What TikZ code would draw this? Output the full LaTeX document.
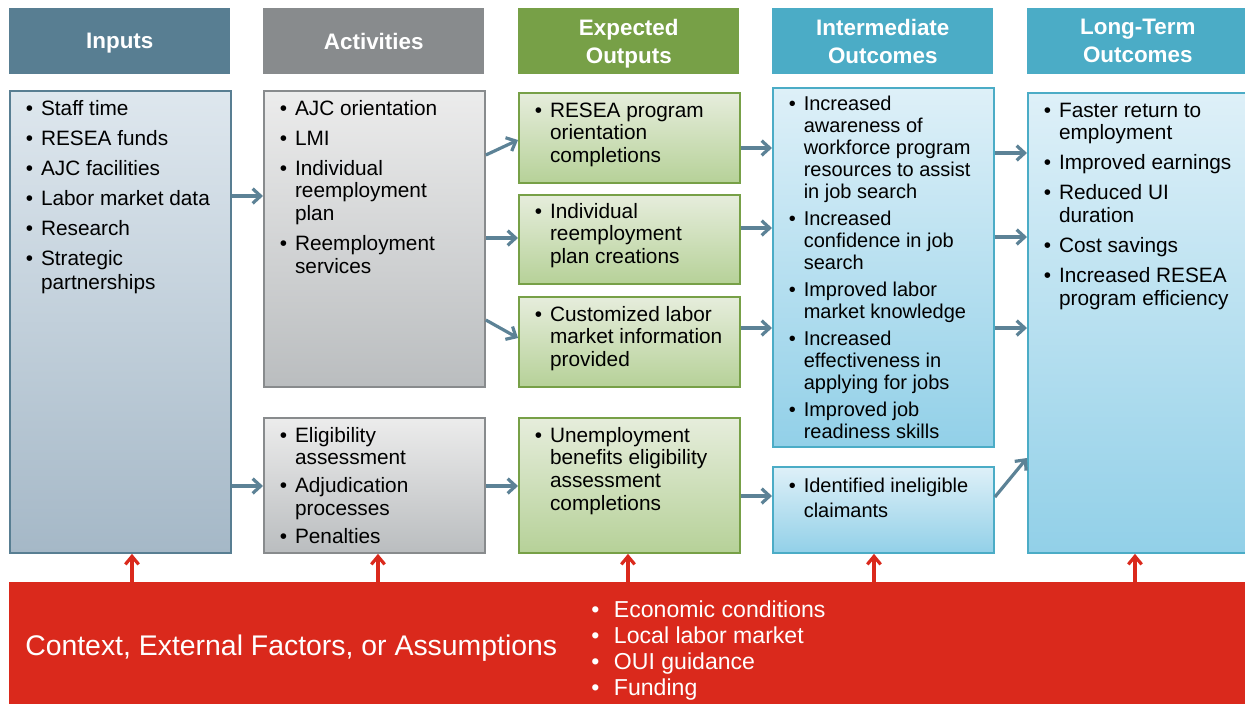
\documentclass[tikz,border=0pt]{standalone}
\usepackage{fontspec}
\setmainfont{Liberation Sans}
\usetikzlibrary{arrows.meta}

\definecolor{inputblue}{RGB}{88,126,146}
\definecolor{inputtop}{RGB}{222,231,238}
\definecolor{inputbot}{RGB}{165,184,199}
\definecolor{actgray}{RGB}{136,139,141}
\definecolor{acttop}{RGB}{236,236,236}
\definecolor{actbot}{RGB}{186,189,191}
\definecolor{outgreen}{RGB}{119,160,71}
\definecolor{outtop}{RGB}{230,237,220}
\definecolor{outbot}{RGB}{182,209,152}
\definecolor{rescyan}{RGB}{75,172,198}
\definecolor{restop}{RGB}{222,240,248}
\definecolor{resbot}{RGB}{146,208,232}
\definecolor{ctxred}{RGB}{218,41,28}
\definecolor{flowblue}{RGB}{92,130,150}

\newdimen\px \px=0.75pt
\newcommand{\items}[1]{\begin{tabular}[t]{@{}l@{\hspace{6pt}}l@{}}#1\end{tabular}}

\tikzset{
  head/.style={fill=#1, text=white, font=\bfseries\fontsize{16.8}{21}\selectfont,
    align=center, anchor=north west, inner sep=0pt, text depth=0pt,
    minimum width=221\px, minimum height=66\px},
  panel/.style n args={4}{draw=#1, top color=#2, bottom color=#3, line width=1.4pt,
    anchor=north west, inner sep=0pt, minimum width=221\px, minimum height=#4\px},
  list/.style={anchor=base west, inner sep=0pt, font=\fontsize{15.6}{17}\selectfont},
  flow/.style={draw=flowblue, line width=2.4pt, -{Straight Barb[length=6pt,width=11pt]}},
  ctxarrow/.style={draw=ctxred, line width=2.4pt, -{Straight Barb[length=6pt,width=10pt]}},
}

\begin{document}
\begin{tikzpicture}[x=0.75pt,y=-0.75pt]
  \useasboundingbox (0,0) rectangle (1245,704);
  \clip (0,0) rectangle (1245,704);
  % headers
  \node[head=inputblue] (hinp) at (9,8) {Inputs};
  \node[head=actgray] (hact) at (263,8) {Activities};
  \node[head=outgreen] (hout) at (518,8) {Expected\\Outputs};
  \node[head=rescyan] (hint) at (772,8) {Intermediate\\Outcomes};
  \node[head=rescyan] (hlt) at (1027,8) {Long-Term\\Outcomes};
  % boxes
  \node[panel={inputblue}{inputtop}{inputbot}{462}] (inp) at (9,90) {};
  \node[panel={actgray}{acttop}{actbot}{296}] (actA) at (263,90) {};
  \node[panel={actgray}{acttop}{actbot}{135}] (actB) at (263,417) {};
  \node[panel={outgreen}{outtop}{outbot}{90}] (out1) at (518,92) {};
  \node[panel={outgreen}{outtop}{outbot}{89}] (out2) at (518,194) {};
  \node[panel={outgreen}{outtop}{outbot}{90}] (out3) at (518,296) {};
  \node[panel={outgreen}{outtop}{outbot}{135}] (out4) at (518,417) {};
  \node[panel={rescyan}{restop}{resbot}{359}] (int1) at (772,87) {};
  \node[panel={rescyan}{restop}{resbot}{86}] (int2) at (772,466) {};
  \node[panel={rescyan}{restop}{resbot}{460}, minimum width=260\px] (lt) at (1027,92) {};
  % box texts
  \node[list, font=\fontsize{15.6}{18}\selectfont] (inptxt) at ([shift={(16.5,25)}]inp.north west) {\items{
    \textbullet & Staff time\\[4.5pt]
    \textbullet & RESEA funds\\[4.5pt]
    \textbullet & AJC facilities\\[4.5pt]
    \textbullet & Labor market data\\[4.5pt]
    \textbullet & Research\\[4.5pt]
    \textbullet & Strategic\\
                & partnerships}};
  \node[list] (actAtxt) at ([shift={(16.5,25)}]actA.north west) {\items{
    \textbullet & AJC orientation\\[5.6pt]
    \textbullet & LMI\\[5.6pt]
    \textbullet & Individual\\ & reemployment\\ & plan\\[5.6pt]
    \textbullet & Reemployment\\ & services}};
  \node[list] (actBtxt) at ([shift={(16.5,25)}]actB.north west) {\items{
    \textbullet & Eligibility\\ & assessment\\[4pt]
    \textbullet & Adjudication\\ & processes\\[4pt]
    \textbullet & Penalties}};
  \node[list] (out1txt) at ([shift={(16.5,25)}]out1.north west) {\items{
    \textbullet & RESEA program\\ & orientation\\ & completions}};
  \node[list] (out2txt) at ([shift={(16.5,24)}]out2.north west) {\items{
    \textbullet & Individual\\ & reemployment\\ & plan creations}};
  \node[list] (out3txt) at ([shift={(16.5,25)}]out3.north west) {\items{
    \textbullet & Customized labor\\ & market information\\ & provided}};
  \node[list] (out4txt) at ([shift={(16.5,25)}]out4.north west) {\items{
    \textbullet & Unemployment\\ & benefits eligibility\\ & assessment\\ & completions}};
  \node[list, font=\fontsize{15}{16.5}\selectfont] (int1txt) at ([shift={(16.5,23)}]int1.north west) {\items{
    \textbullet & Increased\\ & awareness of\\ & workforce program\\ & resources to assist\\ & in job search\\[3.8pt]
    \textbullet & Increased\\ & confidence in job\\ & search\\[3.8pt]
    \textbullet & Improved labor\\ & market knowledge\\[3.8pt]
    \textbullet & Increased\\ & effectiveness in\\ & applying for jobs\\[3.8pt]
    \textbullet & Improved job\\ & readiness skills}};
  \node[list, font=\fontsize{15}{16.5}\selectfont] (int2txt) at ([shift={(16.5,26)}]int2.north west) {\items{
    \textbullet & Identified ineligible\\[2.3pt] & claimants}};
  \node[list] (lttxt) at ([shift={(16.5,25)}]lt.north west) {\items{
    \textbullet & Faster return to\\ & employment\\[5.6pt]
    \textbullet & Improved earnings\\[5.6pt]
    \textbullet & Reduced UI\\ & duration\\[5.6pt]
    \textbullet & Cost savings\\[5.6pt]
    \textbullet & Increased RESEA\\ & program efficiency}};
  % context bar
  \node[fill=ctxred, anchor=north west, inner sep=0pt, minimum width=1240\px, minimum height=122\px] (ctx) at (9,582) {};
  \node[anchor=west, text=white, inner sep=0pt, font=\fontsize{21.3}{25}\selectfont] (ctxtitle) at (25,648) {Context, External Factors, or Assumptions};
  \node[anchor=base west, text=white, inner sep=0pt, font=\fontsize{17.3}{19.5}\selectfont] (ctxlist) at (591,617) {%
    \begin{tabular}[t]{@{}l@{\hspace{11pt}}l@{}}
      \textbullet & Economic conditions\\
      \textbullet & Local labor market\\
      \textbullet & OUI guidance\\
      \textbullet & Funding
    \end{tabular}};
  % flows
  \draw[flow] (inp.east |- 0,196) -- (actA.west |- 0,196);
  \draw[flow] (inp.east |- 0,486) -- (actB.west |- 0,486);
  \draw[flow] (actA.east |- 0,155) -- (out1.west |- 0,140);
  \draw[flow] (actA.east |- 0,238) -- (out2.west |- 0,238);
  \draw[flow] (actA.east |- 0,320) -- (out3.west |- 0,338);
  \draw[flow] (actB.east |- 0,486) -- (out4.west |- 0,486);
  \draw[flow] (out1.east |- 0,148) -- (int1.west |- 0,148);
  \draw[flow] (out2.east |- 0,228) -- (int1.west |- 0,228);
  \draw[flow] (out3.east |- 0,328) -- (int1.west |- 0,328);
  \draw[flow] (out4.east |- 0,496) -- (int2.west |- 0,496);
  \foreach \Y in {153,237,328} {%
    \draw[flow] (int1.east |- 0,\Y) -- (lt.west |- 0,\Y);
  }
  \draw[flow] (int2.east |- 0,497) -- (lt.west |- 0,458);
  % context arrows
  \foreach \bx/\X in {inp/132,actB/378,out4/628,int2/874,lt/1135} {%
    \draw[ctxarrow] (ctx.north -| \X,0) -- (\bx.south -| \X,0);
  }
\end{tikzpicture}
\end{document}
